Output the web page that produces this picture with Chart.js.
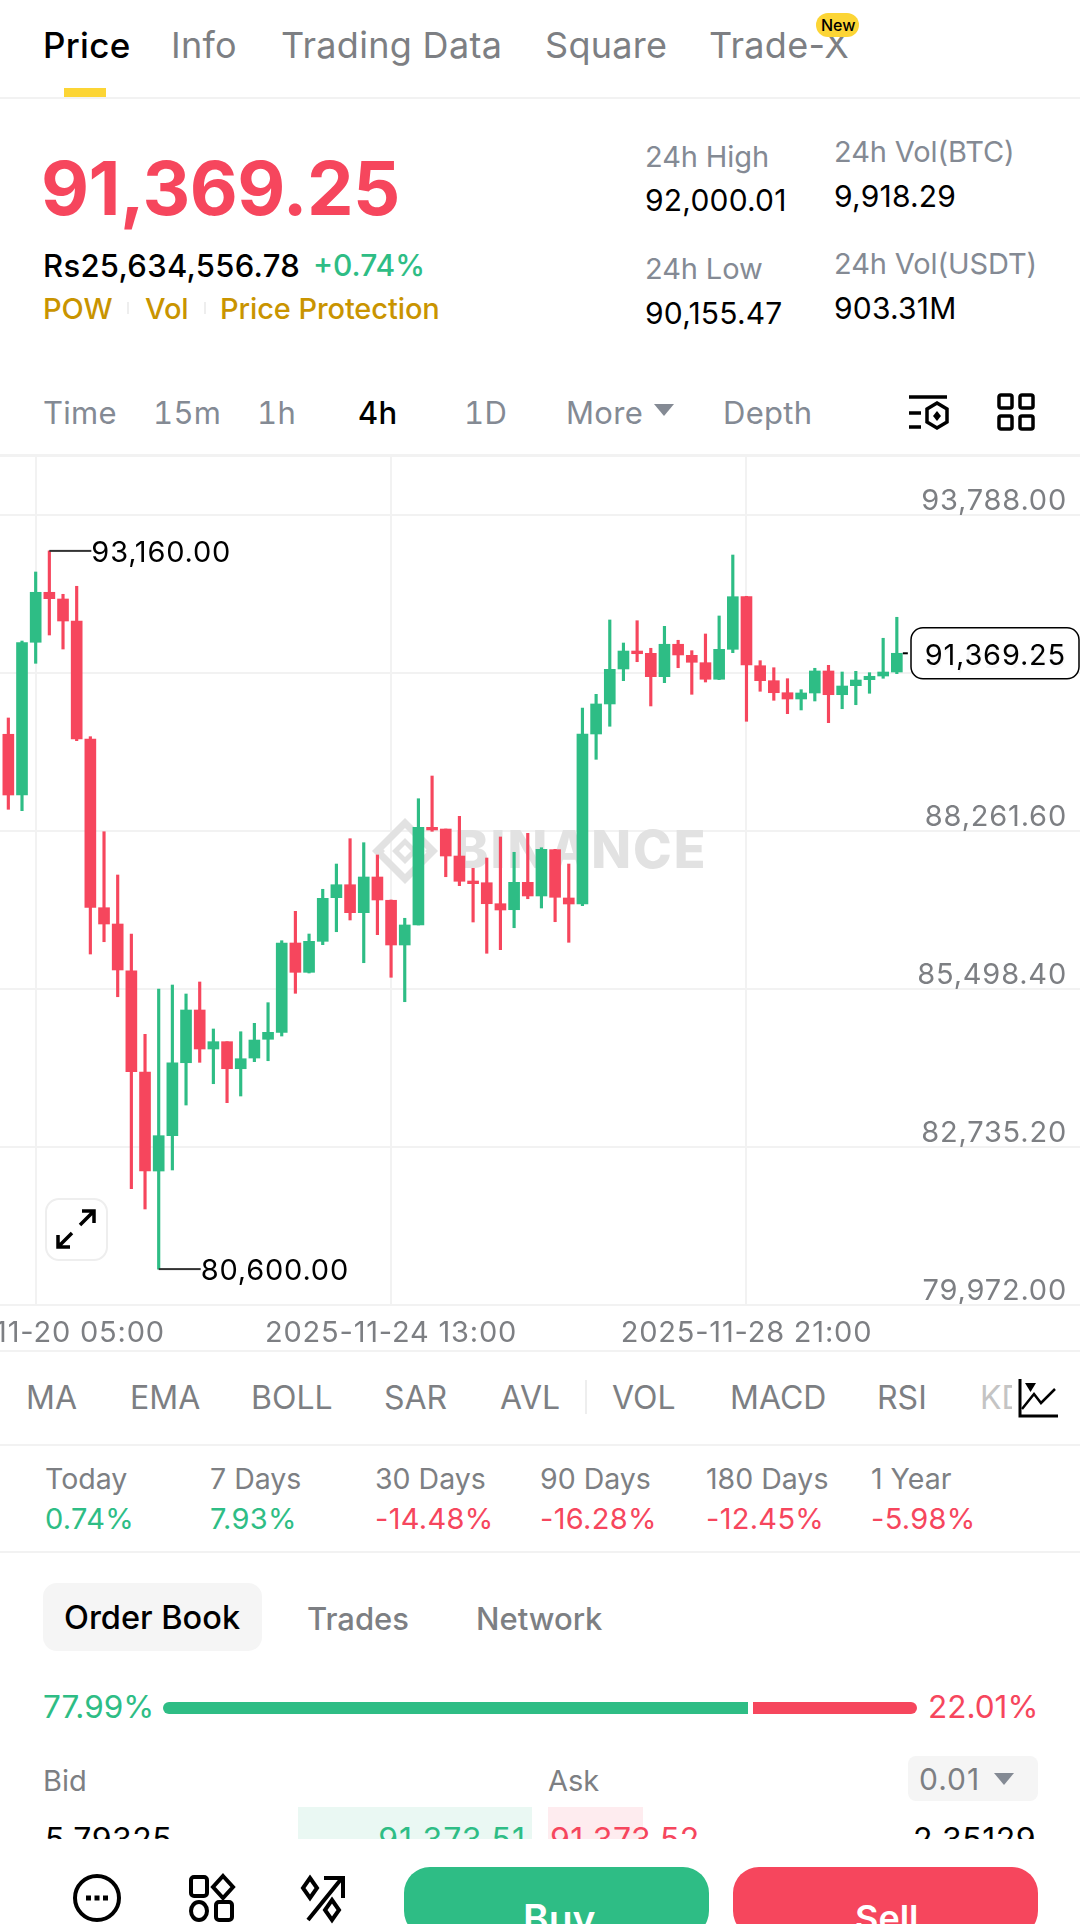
<!DOCTYPE html>
<html>
<head>
<meta charset="utf-8">
<script src="https://cdn.jsdelivr.net/npm/chart.js@4"></script>
<style>
  html, body { margin: 0; padding: 0; background: #fff; }
  body { position: relative; width: 1080px; height: 1924px; overflow: hidden; font-family: Inter, sans-serif; color: #000; }
  .t { position: absolute; white-space: nowrap; line-height: 1; transform: translateY(-50%); }
  .r { transform: translate(-100%, -50%); }
  .gray { color: #7d7f83; }
  .label { color: #848a94; font-size: 29px; letter-spacing: -0.1px; }
  .num { font-size: 30px; letter-spacing: 0.2px; }
  .tab { font-size: 36px; letter-spacing: 0.3px; color: #7d7f83; }
  .tf { font-size: 31px; letter-spacing: 0.3px; color: #848a94; font-variant-numeric: tabular-nums; }
  .ind { font-size: 32px; color: #7d7f83; }
  .per { font-size: 28.5px; }
  .val { font-size: 29px; letter-spacing: 0.3px; }
  .up { color: #2ebd85; }
  .down { color: #f6465d; }
  .gold { color: #c99400; font-size: 29px; font-weight: 500; letter-spacing: -0.1px; }
  .box { position: absolute; }
  .hline { position: absolute; left: 0; width: 1080px; height: 2px; background: #f2f2f2; }
  svg { position: absolute; overflow: visible; }
  #chart { position: absolute; left: 0; top: 455px; }
</style>
</head>
<body>

<!-- tabs -->
<div class="t tab" style="left:43px;top:45px;font-size:35px;color:#000;font-weight:500">Price</div>
<div class="t tab" style="left:171px;top:45px">Info</div>
<div class="t tab" style="left:281px;top:45px">Trading Data</div>
<div class="t tab" style="left:545px;top:45px">Square</div>
<div class="t tab" style="left:709px;top:45px">Trade-X</div>
<div class="box" style="left:816px;top:13px;width:43px;height:24px;border-radius:12px;background:#fcd535"></div>
<div class="t" style="left:821px;top:25px;font-size:16px;font-weight:500">New</div>
<div class="box" style="left:64px;top:88px;width:42px;height:9px;background:#fcd535"></div>
<div class="hline" style="top:97px"></div>

<!-- price block -->
<div class="t down" style="left:41px;top:188px;font-size:74px;font-weight:700;letter-spacing:-0.5px">91,369.25</div>
<div class="t" style="left:43px;top:265px;font-size:31px;font-weight:500;letter-spacing:0.3px">Rs25,634,556.78</div>
<div class="t up" style="left:313px;top:265px;font-size:30px;font-weight:500">+0.74%</div>
<div class="t gold" style="left:43px;top:308px">POW</div>
<div class="box" style="left:127px;top:302px;width:2px;height:12px;background:#eee"></div>
<div class="t gold" style="left:145px;top:308px">Vol</div>
<div class="box" style="left:204px;top:302px;width:2px;height:12px;background:#eee"></div>
<div class="t gold" style="left:220px;top:308px">Price Protection</div>

<div class="t label" style="left:645px;top:156px">24h High</div>
<div class="t num" style="left:645px;top:200px">92,000.01</div>
<div class="t label" style="left:645px;top:268px">24h Low</div>
<div class="t num" style="left:645px;top:313px">90,155.47</div>
<div class="t label" style="left:834px;top:151px">24h Vol(BTC)</div>
<div class="t num" style="left:834px;top:196px">9,918.29</div>
<div class="t label" style="left:834px;top:263px">24h Vol(USDT)</div>
<div class="t num" style="left:834px;top:308px">903.31M</div>

<!-- timeframes -->
<div class="t tf" style="left:43px;top:412px">Time</div>
<div class="t tf" style="left:153px;top:412px">15m</div>
<div class="t tf" style="left:257px;top:412px">1h</div>
<div class="t tf" style="left:358px;top:412px;color:#000;font-weight:500">4h</div>
<div class="t tf" style="left:464px;top:412px">1D</div>
<div class="t tf" style="left:566px;top:412px">More</div>
<svg style="left:654px;top:404px" width="20" height="14"><path d="M0 0H20L10 12Z" fill="#848a94"/></svg>
<div class="t tf" style="left:723px;top:412px">Depth</div>
<svg style="left:908px;top:394px" width="42" height="40" fill="none" stroke="#000" stroke-width="3.5">
  <path d="M1 3H39M1 19H13M1 33H13"/>
  <path d="M29 9L39 15V28L29 34L19 28V15Z"/>
  <path d="M29 17L33 22L29 27L25 22Z" fill="#000" stroke="none"/>
</svg>
<svg style="left:997px;top:393px" width="38" height="38" fill="none" stroke="#000" stroke-width="3.5">
  <rect x="2" y="2" width="13" height="13" rx="2"/><rect x="23" y="2" width="13" height="13" rx="2"/>
  <rect x="2" y="23" width="13" height="13" rx="2"/><rect x="23" y="23" width="13" height="13" rx="2"/>
</svg>

<canvas id="chart" width="1080" height="896"></canvas>
<div class="hline" style="top:454px;height:3px"></div>
<div class="hline" style="top:1304px"></div>
<div class="hline" style="top:1350px"></div>

<!-- expand button -->
<div class="box" style="left:45px;top:1198px;width:59px;height:59px;border:2px solid #eee;border-radius:14px;background:#fff"></div>
<svg style="left:56px;top:1209px" width="40" height="40" fill="none" stroke="#000" stroke-width="3.5">
  <path d="M24 16L38 2M26 2H38V14M16 24L2 38M14 38H2V26"/>
</svg>

<!-- indicators -->
<div class="t ind" style="left:26px;top:1398px">MA</div>
<div class="t ind" style="left:130px;top:1398px">EMA</div>
<div class="t ind" style="left:251px;top:1398px">BOLL</div>
<div class="t ind" style="left:384px;top:1398px">SAR</div>
<div class="t ind" style="left:500px;top:1398px">AVL</div>
<div class="box" style="left:585px;top:1380px;width:2px;height:34px;background:#eee"></div>
<div class="t ind" style="left:612px;top:1398px">VOL</div>
<div class="t ind" style="left:730px;top:1398px">MACD</div>
<div class="t ind" style="left:877px;top:1398px">RSI</div>
<div class="t ind" style="left:980px;top:1398px;color:#c4c4c4">KD</div>
<div class="box" style="left:1012px;top:1375px;width:68px;height:46px;background:#fff"></div>
<svg style="left:1018px;top:1379px" width="42" height="40" fill="none" stroke="#000" stroke-width="3">
  <path d="M2 0V37H40"/>
  <path d="M4 30L16 15L23 24L37 10" stroke-width="2.5"/>
  <path d="M7 4H18L12.500 13Z" fill="#000" stroke="none"/>
</svg>
<div class="hline" style="top:1444px"></div>

<!-- period changes -->
<div class="t per gray" style="left:45px;top:1479px">Today</div>
<div class="t val up" style="left:45px;top:1518px">0.74%</div>
<div class="t per gray" style="left:210px;top:1479px">7 Days</div>
<div class="t val up" style="left:210px;top:1518px">7.93%</div>
<div class="t per gray" style="left:375px;top:1479px">30 Days</div>
<div class="t val down" style="left:375px;top:1518px">-14.48%</div>
<div class="t per gray" style="left:540px;top:1479px">90 Days</div>
<div class="t val down" style="left:540px;top:1518px">-16.28%</div>
<div class="t per gray" style="left:706px;top:1479px">180 Days</div>
<div class="t val down" style="left:706px;top:1518px">-12.45%</div>
<div class="t per gray" style="left:871px;top:1479px">1 Year</div>
<div class="t val down" style="left:871px;top:1518px">-5.98%</div>
<div class="hline" style="top:1551px"></div>

<!-- order book -->
<div class="box" style="left:43px;top:1583px;width:219px;height:68px;border-radius:14px;background:#f5f5f5"></div>
<div class="t" style="left:64px;top:1618px;font-size:32.500px;font-weight:500">Order Book</div>
<div class="t gray" style="left:307px;top:1618px;font-size:31px;font-weight:500">Trades</div>
<div class="t gray" style="left:476px;top:1618px;font-size:31px;font-weight:500">Network</div>
<div class="t up" style="left:43px;top:1707px;font-size:31.500px">77.99%</div>
<div class="box" style="left:163px;top:1702px;width:585px;height:12px;border-radius:6px 0 0 6px;background:#2ebd85"></div>
<div class="box" style="left:753px;top:1702px;width:164px;height:12px;border-radius:0 6px 6px 0;background:#f6465d"></div>
<div class="t down" style="left:928px;top:1707px;font-size:31.500px">22.01%</div>
<div class="t gray" style="left:43px;top:1780px;font-size:29px">Bid</div>
<div class="t gray" style="left:548px;top:1780px;font-size:29px">Ask</div>
<div class="box" style="left:908px;top:1756px;width:130px;height:45px;border-radius:8px;background:#f5f5f5"></div>
<div class="t gray" style="left:919px;top:1779px;font-size:30px;letter-spacing:1px">0.01</div>
<svg style="left:994px;top:1773px" width="20" height="14"><path d="M0 0H20L10 12Z" fill="#848a94"/></svg>

<div class="box" style="left:0;top:1807px;width:1080px;height:32px;overflow:hidden">
  <div class="box" style="left:298px;top:0;width:234px;height:32px;background:#eaf8f3"></div>
  <div class="box" style="left:548px;top:0;width:95px;height:32px;background:#feecef"></div>
  <div class="t num" style="left:45px;top:33px;font-size:32px;letter-spacing:0.5px">5.79325</div>
  <div class="t num r up" style="left:526px;top:33px;font-size:32px;letter-spacing:1px">91,373.51</div>
  <div class="t num down" style="left:550px;top:33px;font-size:32px;letter-spacing:0.5px">91,373.52</div>
  <div class="t num r" style="left:1036px;top:33px;font-size:32px;letter-spacing:0.5px">2.35129</div>
</div>

<!-- bottom bar -->
<svg style="left:73px;top:1874px" width="48" height="48" fill="none" stroke="#000" stroke-width="4">
  <circle cx="24" cy="24" r="22"/>
  <path d="M13 24h5M21.500 24h5M30 24h5" stroke-width="5"/>
</svg>
<svg style="left:189px;top:1874px" width="46" height="48" fill="none" stroke="#000" stroke-width="4">
  <rect x="2" y="3" width="16" height="19" rx="3"/>
  <path d="M34 2L44 13L34 24L24 13Z"/>
  <ellipse cx="10" cy="37" rx="8" ry="9"/>
  <rect x="27" y="28" width="16" height="18" rx="3"/>
</svg>
<svg style="left:302px;top:1874px" width="44" height="48" fill="none" stroke="#000" stroke-width="4">
  <path d="M8 4L15 14L8 24L1 14Z"/>
  <path d="M30 26L37 36L30 46L23 36Z"/>
  <path d="M6 46L40 4M22 4H41V24"/>
</svg>
<div class="box" style="left:404px;top:1867px;width:305px;height:70px;border-radius:26px;background:#2ebd85"></div>
<div class="box" style="left:733px;top:1867px;width:305px;height:70px;border-radius:26px;background:#f6465d"></div>
<div class="t" style="left:523px;top:1918px;font-size:39px;font-weight:600;color:#fff">Buy</div>
<div class="t" style="left:855px;top:1918px;font-size:36px;font-weight:600;color:#fff">Sell</div>

<script>
// 4h candles
const opens = [89953, 88891, 91562, 92436, 92319, 91934, 89870, 86920, 86635, 85818, 84047,
  82315, 82933, 84209, 85131, 84449, 84577, 84104, 84291, 84619, 84741, 86303,
  85790, 86332, 87095, 87322, 86833, 87457, 87050, 86268, 86618, 88326, 88296,
  87824, 87387, 87357, 86990, 86885, 87364, 87125, 87935, 87090, 86985, 89958,
  90483, 91095, 91409, 91369, 90960, 91527, 91334, 91205, 90915, 91439, 92359,
  91152, 90890, 90680, 90570, 90675, 91060, 90645, 90803, 90908, 90972, 91042];
const highs = [90238, 91584, 92791, 93160, 92401, 92541, 89911, 88249, 87492, 86460, 84706,
  85498, 85568, 85411, 85621, 84799, 84577, 84751, 84898, 85259, 86343, 86857,
  86460, 87242, 87684, 88127, 88057, 87842, 87055, 86735, 88826, 89223, 88296,
  88518, 87609, 87789, 88157, 87889, 88221, 87969, 87941, 87684, 90413, 90652,
  91952, 91549, 91939, 91457, 91841, 91597, 91415, 91707, 92022, 93088, 92366,
  91240, 91117, 90925, 90733, 91107, 91159, 91042, 91054, 91030, 91632, 91999];
const lows = [88641, 88617, 91194, 91689, 91444, 89841, 86110, 86325, 85363, 82006, 81651,
  80600, 82333, 83469, 84216, 83842, 83510, 83627, 84227, 84244, 84676, 85423,
  85778, 86273, 86500, 86705, 85958, 86448, 85703, 85276, 86618, 88256, 87462,
  87305, 86670, 86123, 86186, 86570, 87077, 86915, 86675, 86315, 86955, 89515,
  90093, 90890, 91222, 90448, 90855, 91117, 90652, 90867, 90909, 91380, 90180,
  90705, 90547, 90313, 90378, 90535, 90156, 90400, 90470, 90670, 90932, 91013];
const closes = [88891, 91555, 92436, 92324, 91934, 89870, 86927, 86635, 85831, 84052, 82315,
  82933, 84209, 85131, 84449, 84577, 84104, 84279, 84606, 84741, 86303, 85790,
  86332, 87084, 87322, 86833, 87457, 87055, 86268, 86618, 88326, 88279, 87824,
  87382, 87340, 86990, 86880, 87364, 87125, 87941, 87102, 86985, 89958, 90483,
  91089, 91409, 91362, 90960, 91527, 91340, 91212, 90915, 91439, 92359, 91165,
  90890, 90680, 90570, 90675, 91060, 90645, 90797, 90902, 90967, 91042, 91369.25];

const yTicks = [93788, 91024.8, 88261.6, 85498.4, 82735.2, 79972];
const xTicks = [2, 28, 54];
const xTickLabels = ['2025-11-20 05:00', '2025-11-24 13:00', '2025-11-28 21:00'];

const UP = '#2ebd85';
const DOWN = '#f6465d';
const GRID = '#f2f2f2';
const FONT = 'Inter, sans-serif';
const fmt = v => v.toLocaleString('en-US', { minimumFractionDigits: 2, maximumFractionDigits: 2 });

const colors = closes.map((c, i) => c >= opens[i] ? UP : DOWN);
const idx = closes.map((_, i) => i);

// watermark, high/low tags and the last price box
const overlay = {
  id: 'overlay',
  beforeDraw(chart) {
    chart.ctx.letterSpacing = '0.8px';
  },
  beforeDatasetsDraw(chart) {
    const { ctx } = chart;
    ctx.save();
    ctx.fillStyle = '#e2e2e2';
    const cx = 405, cy = 396;
    const diamond = (x, y, r) => {
      ctx.moveTo(x, y - r); ctx.lineTo(x + r, y); ctx.lineTo(x, y + r); ctx.lineTo(x - r, y); ctx.closePath();
    };
    ctx.beginPath();
    diamond(cx, cy, 33);
    diamond(cx, cy, 23);
    diamond(cx, cy, 13);
    diamond(cx, cy, 6);
    ctx.fill('evenodd');
    ctx.beginPath();
    diamond(cx - 26, cy, 6);
    diamond(cx + 26, cy, 6);
    ctx.fill();
    ctx.font = '800 52px ' + FONT;
    ctx.textBaseline = 'middle';
    ctx.letterSpacing = '2px';
    ctx.fillText('BINANCE', 454, 397);
    ctx.restore();
    ctx.letterSpacing = '0.8px';
  },
  afterDraw(chart) {
    const { ctx, scales: { x, y } } = chart;
    ctx.save();
    ctx.font = '29px ' + FONT;
    ctx.textBaseline = 'middle';

    const tag = (i, v) => {
      const px = x.getPixelForValue(i), py = y.getPixelForValue(v);
      ctx.fillStyle = '#333';
      ctx.fillRect(px, py - 1, 42, 2);
      ctx.fillStyle = '#000';
      ctx.fillText(fmt(v), px + 42, py + 2);
    };
    const hi = highs.indexOf(Math.max(...highs));
    const lo = lows.indexOf(Math.min(...lows));
    tag(hi, highs[hi]);
    tag(lo, lows[lo]);

    const last = closes[closes.length - 1];
    const py = y.getPixelForValue(last);
    ctx.fillStyle = '#000';
    ctx.fillRect(x.getPixelForValue(closes.length - 1) + 6, py - 1, 5, 2);
    ctx.beginPath();
    ctx.roundRect(911, py - 25.5, 168, 51, 12);
    ctx.fillStyle = 'rgba(255,255,255,0.94)';
    ctx.fill();
    ctx.strokeStyle = '#000';
    ctx.lineWidth = 1.5;
    ctx.stroke();
    ctx.fillStyle = '#000';
    ctx.textAlign = 'right';
    ctx.fillText(fmt(last), 1066, py + 3);
    ctx.restore();
  },
};

new Chart(document.getElementById('chart'), {
  type: 'bar',
  data: {
    datasets: [
      {
        label: 'body',
        data: idx.map(i => ({ x: i, y: [opens[i], closes[i]] })),
        backgroundColor: colors,
        barThickness: 11,
        grouped: false,
        order: 1,
      },
      {
        label: 'wick',
        data: idx.map(i => ({ x: i, y: [lows[i], highs[i]] })),
        backgroundColor: colors,
        barThickness: 2.5,
        grouped: false,
        order: 2,
      },
    ],
  },
  options: {
    responsive: false,
    animation: false,
    layout: { padding: 0 },
    plugins: { legend: { display: false }, tooltip: { enabled: false } },
    scales: {
      x: {
        type: 'linear',
        offset: false,
        min: -0.61,
        max: 78.4,
        grid: { color: GRID, lineWidth: 2, drawTicks: false, offset: false },
        border: { display: false },
        ticks: {
          color: '#7d7f83',
          font: { family: FONT, size: 29 },
          padding: 11,
          maxRotation: 0,
          autoSkip: false,
          callback: v => xTickLabels[xTicks.indexOf(v)],
        },
        afterBuildTicks: s => { s.ticks = xTicks.map(v => ({ value: v })); },
        afterFit: s => { s.height = 46; s.paddingLeft = 0; s.paddingRight = 0; },
      },
      y: {
        position: 'right',
        min: 79972,
        max: 94837,
        grid: { color: GRID, lineWidth: 2, drawTicks: false },
        border: { display: false },
        ticks: {
          mirror: true,
          color: '#7d7f83',
          font: { family: FONT, size: 29 },
          padding: -13,
          labelOffset: -14,
          callback: fmt,
        },
        afterBuildTicks: s => { s.ticks = yTicks.map(v => ({ value: v })); },
        afterFit: s => { s.width = 0; s.paddingTop = 0; s.paddingBottom = 0; },
      },
    },
  },
  plugins: [overlay],
});
</script>
</body>
</html>
